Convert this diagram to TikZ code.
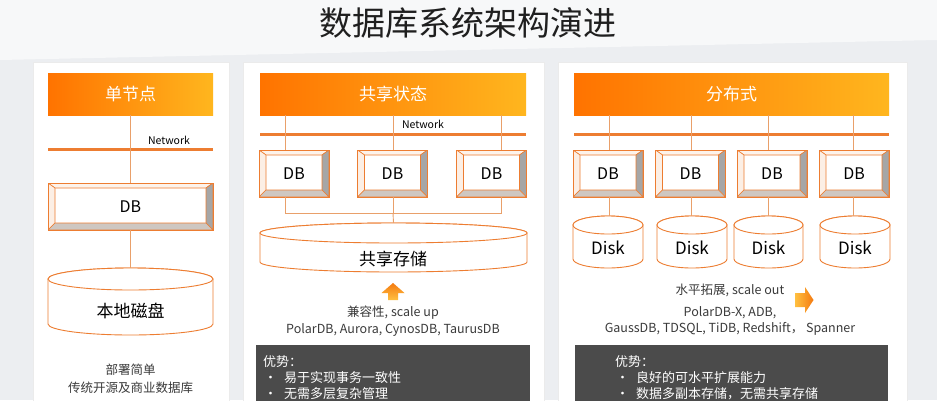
\documentclass[tikz,border=0pt]{standalone}
\usepackage{fontspec}
\setmainfont{Noto Sans CJK SC}
\usetikzlibrary{calc}
\definecolor{org}{HTML}{ED7D31}
\definecolor{conncol}{HTML}{E9A06A}
\definecolor{hdrL}{HTML}{FF7300}
\definecolor{hdrR}{HTML}{FFB61E}
\definecolor{bgc}{HTML}{ECEEF1}
\definecolor{darkbox}{HTML}{4B4B4B}
\definecolor{txtgray}{HTML}{3A3A3A}
\definecolor{bevtop}{HTML}{FDF3EB}
\definecolor{bevleft}{HTML}{FCEFE5}
\definecolor{bevright}{HTML}{A6A6A6}
\definecolor{bevbot}{HTML}{CEC7C1}
\definecolor{arrA}{HTML}{F47A10}
\definecolor{arrB}{HTML}{FFC040}
\newcommand\mycyl[6]{% name, x1, x2, ytop, ybot, ry
  \pgfmathsetmacro\mycx{(#2+#3)/2}%
  \pgfmathsetmacro\myrx{(#3-#2)/2}%
  \pgfmathsetmacro\myyt{#4+#6}%
  \pgfmathsetmacro\myyb{#5-#6}%
  \pgfmathsetmacro\myym{(#4+#5)/2}%
  \pgfmathsetmacro\myh{#5-#4}%
  \pgfmathsetmacro\myw{#3-#2}%
  \filldraw[cylst] (#2,\myyt) -- (#2,\myyb) arc[start angle=180,end angle=360,x radius=\myrx pt,y radius=#6pt] -- (#3,\myyt) arc[start angle=0,end angle=180,x radius=\myrx pt,y radius=#6pt] -- cycle;
  \draw[cylst] (\mycx,\myyt) ellipse[x radius=\myrx pt,y radius=#6pt];
  \node[inner sep=0pt,minimum width=\myw pt,minimum height=\myh pt] (#1) at (\mycx,\myym) {};
}
\tikzset{
  hdr/.style={left color=hdrL, right color=hdrR, text=white, inner sep=0pt,
    minimum height=42pt, font=\fontsize{17}{20}\selectfont},
  netline/.style={fill=org, inner sep=0pt, minimum height=3pt},
  conn/.style={draw=conncol, line width=0.9pt},
  cylst/.style={draw=org, fill=white, line width=0.9pt},
  panel/.style={fill=white, draw=black!8, line width=0.5pt},
  dbst/.style={draw=org, fill=white, line width=0.8pt, inner sep=0pt,
    minimum height=47pt, font=\fontsize{16}{18}\selectfont,
    path picture={
      \coordinate (nw) at (path picture bounding box.north west);
      \coordinate (ne) at (path picture bounding box.north east);
      \coordinate (sw) at (path picture bounding box.south west);
      \coordinate (se) at (path picture bounding box.south east);
      \coordinate (inw) at ([xshift=7pt,yshift=-5pt]nw);
      \coordinate (ine) at ([xshift=-7pt,yshift=-5pt]ne);
      \coordinate (isw) at ([xshift=7pt,yshift=7pt]sw);
      \coordinate (ise) at ([xshift=-7pt,yshift=7pt]se);
      \filldraw[fill=bevtop, draw=org, line width=0.6pt] (nw) -- (ne) -- (ine) -- (inw) -- cycle;
      \filldraw[fill=bevleft, draw=org, line width=0.6pt] (nw) -- (inw) -- (isw) -- (sw) -- cycle;
      \filldraw[fill=bevright, draw=org, line width=0.6pt] (ne) -- (ine) -- (ise) -- (se) -- cycle;
      \filldraw[fill=bevbot, draw=org, line width=0.6pt] (sw) -- (isw) -- (ise) -- (se) -- cycle;
    }},
  nettxt/.style={font=\fontsize{10.5}{12}\selectfont, text=black},
  bigtxt/.style={font=\fontsize{17}{20}\selectfont, text=black},
  smalltxt/.style={font=\fontsize{12.5}{15}\selectfont, text=txtgray},
  darktxt/.style={font=\fontsize{13}{15}\selectfont, text=white, anchor=west, inner sep=0pt},
}
\begin{document}
\begin{tikzpicture}[x=1pt,y=-1pt]
\useasboundingbox (0,0) rectangle (937,400);
\fill[bgc] (0,0) rectangle (937,400);
\fill[white!60!bgc] (0,0) -- (937,0) -- (937,40) -- (0,60) -- cycle;
% title
\node[font=\fontsize{33}{38}\selectfont, text=black!88] (title) at (468,23) {数据库系统架构演进};
% panels
\draw[panel] (33,62) rectangle (229,401);
\draw[panel] (243,62) rectangle (544,401);
\draw[panel] (558,62) rectangle (907,401);

% ===== left panel =====
\node[hdr, minimum width=165pt] (h1) at (130.5,94) {单节点};
\node[netline, minimum width=165pt] (net1) at (130.5,149) {};
\node[nettxt] (nt1) at (169,140) {Network};
\node[dbst, minimum width=165pt] (db1) at (130.5,206.5) {DB};
\mycyl{cyl1}{48}{213}{268}{335}{11}
\node[bigtxt] (cylt1) at (130.5,311) {本地磁盘};
\draw[conn] (h1.south) -- (db1.north);
\draw[conn] (db1.south) -- (cyl1.north);
\node[smalltxt] (l1a) at (130.5,370) {部署简单};
\node[smalltxt] (l1b) at (130.5,388) {传统开源及商业数据库};

% ===== middle panel =====
\node[hdr, minimum width=266pt] (h2) at (393,94) {共享状态};
\node[netline, minimum width=266pt] (net2) at (393,134) {};
\node[nettxt] (nt2) at (423,124) {Network};
\node[dbst, minimum width=70pt] (db21) at (294,173.5) {DB};
\node[dbst, minimum width=70pt] (db22) at (392.5,173.5) {DB};
\node[dbst, minimum width=70pt] (db23) at (491.5,173.5) {DB};
\coordinate (m1) at (285,213);
\coordinate (m2) at (393,213);
\coordinate (m3) at (501,213);
\mycyl{cyl2}{260}{527}{223}{272}{10}
\node[bigtxt] (cylt2) at (393,259) {共享存储};
\draw[conn] (m1 |- h2.south) -- (m1 |- db21.north);
\draw[conn] (m2 |- h2.south) -- (m2 |- db22.north);
\draw[conn] (m3 |- h2.south) -- (m3 |- db23.north);
\draw[conn] (m1 |- db21.south) -- (m1) -- (m3) -- (m3 |- db23.south);
\draw[conn] (m2 |- db22.south) -- (m2);
\draw[conn] (m2) -- (cyl2.north);
\shade[top color=arrA, bottom color=arrB] (388,300) -- (388,293) -- (381.5,293) -- (393,283) -- (404.5,293) -- (398,293) -- (398,300) -- cycle;
\node[smalltxt] (l2a) at (393,313) {兼容性, scale up};
\node[smalltxt] (l2b) at (393,330) {PolarDB, Aurora, CynosDB, TaurusDB};
\fill[darkbox] (256,345) rectangle (530,401);
\node[darktxt] (d2a) at (263,362) {优势：};
\node[darktxt] (d2b) at (264,378) {•\hspace{7pt}易于实现事务一致性};
\node[darktxt] (d2c) at (264,394) {•\hspace{7pt}无需多层复杂管理};

% ===== right panel =====
\node[hdr, minimum width=315pt] (h3) at (731.5,94) {分布式};
\node[netline, minimum width=315pt] (net3) at (731.5,134) {};
\node[dbst, minimum width=70pt] (db31) at (608,173.5) {DB};
\node[dbst, minimum width=70pt] (db32) at (690.5,173.5) {DB};
\node[dbst, minimum width=70pt] (db33) at (772,173.5) {DB};
\node[dbst, minimum width=70pt] (db34) at (854,173.5) {DB};
\mycyl{dk1}{573}{643}{216}{268}{9}
\mycyl{dk2}{657}{727}{216}{268}{9}
\mycyl{dk3}{734}{803}{216}{268}{9}
\mycyl{dk4}{820}{890}{216}{268}{9}
\node[bigtxt] (dt1) at (608,248) {Disk};
\node[bigtxt] (dt2) at (692,248) {Disk};
\node[bigtxt] (dt3) at (768.5,248) {Disk};
\node[bigtxt] (dt4) at (855,248) {Disk};
\coordinate (r1) at (609,0);
\coordinate (r2) at (691,0);
\coordinate (r3) at (768,0);
\coordinate (r4) at (853,0);
\draw[conn] (r1 |- h3.south) -- (r1 |- db31.north);
\draw[conn] (r2 |- h3.south) -- (r2 |- db32.north);
\draw[conn] (r3 |- h3.south) -- (r3 |- db33.north);
\draw[conn] (r4 |- h3.south) -- (r4 |- db34.north);
\draw[conn] (r1 |- db31.south) -- (r1 |- dk1.north);
\draw[conn] (r2 |- db32.south) -- (r2 |- dk2.north);
\draw[conn] (r3 |- db33.south) -- (r3 |- dk3.north);
\draw[conn] (r4 |- db34.south) -- (r4 |- dk4.north);
\node[smalltxt] (l3a) at (730,290) {水平拓展, scale out};
\shade[left color=arrB, right color=arrA] (795,293) -- (805,293) -- (805,287) -- (813.5,300) -- (805,313) -- (805,307) -- (795,307) -- cycle;
\node[smalltxt] (l3b) at (730,313) {PolarDB-X, ADB,};
\node[smalltxt] (l3c) at (730,328.5) {GaussDB, TDSQL, TiDB, Redshift， Spanner};
\fill[darkbox] (575,345) rectangle (888,401);
\node[darktxt] (d3a) at (615,362) {优势：};
\node[darktxt] (d3b) at (616,378) {•\hspace{7pt}良好的可水平扩展能力};
\node[darktxt] (d3c) at (616,394) {•\hspace{7pt}数据多副本存储，无需共享存储};
\end{tikzpicture}
\end{document}
